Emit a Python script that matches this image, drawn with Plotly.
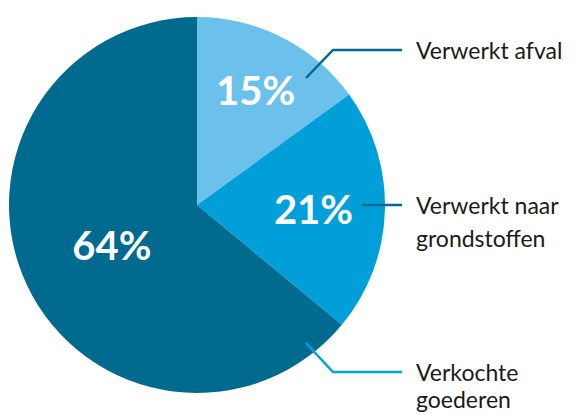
import plotly.graph_objects as go

categories = ["Verwerkt afval", "Verwerkt naar grondstoffen", "Verkochte goederen"]
label_lines = [["Verwerkt afval"], ["Verwerkt naar", "grondstoffen"], ["Verkochte", "goederen"]]
values = [15, 21, 64]
colors = ["#6CC0EC", "#009FDA", "#006A8F"]

W, H = 578, 415
cx, cy, r = 197, 205, 188

def px(x):
    return x / W

def py(y):
    return 1 - y / H

fig = go.Figure(go.Pie(
    labels=categories,
    values=values,
    sort=False,
    direction="clockwise",
    rotation=0,
    marker=dict(colors=colors, line=dict(width=0)),
    texttemplate="%{value}%",
    textposition="inside",
    insidetextorientation="horizontal",
    textfont=dict(family="Lato", size=40, color="white", weight="bold"),
    hoverinfo="label+percent",
    showlegend=False,
    domain=dict(x=[px(cx - r), px(cx + r)], y=[py(cy + r), py(cy - r)]),
))

# leader lines: (points in pixel coords), colour
leaders = [
    ([(306, 78), (333, 50), (402, 50)], "#00698F"),
    ([(362, 205), (402, 205)], "#00698F"),
    ([(306, 343), (333, 372), (402, 372)], "#00A3E0"),
]
shapes = []
for pts, col in leaders:
    path = "M " + " L ".join(f"{px(x)},{py(y)}" for x, y in pts)
    shapes.append(dict(type="path", xref="paper", yref="paper", path=path,
                       line=dict(color=col, width=2.5)))

label_y = [50, 205, 372]
line_gap = 33
annotations = []
for lines, y0 in zip(label_lines, label_y):
    for i, txt in enumerate(lines):
        y = y0 + i * line_gap
        anchor = "middle"
        if y + 15 > H:
            y = H - 1
            anchor = "bottom"
        annotations.append(dict(x=px(415), y=py(y), xref="paper", yref="paper",
                                text=txt, showarrow=False, xanchor="left", yanchor=anchor,
                                align="left", borderpad=0,
                                font=dict(family="Lato", size=23, color="#1a1a1a")))

fig.update_layout(
    width=W, height=H,
    margin=dict(l=0, r=0, t=0, b=0),
    paper_bgcolor="white",
    plot_bgcolor="white",
    shapes=shapes,
    annotations=annotations,
)

fig.write_html("out.html")
